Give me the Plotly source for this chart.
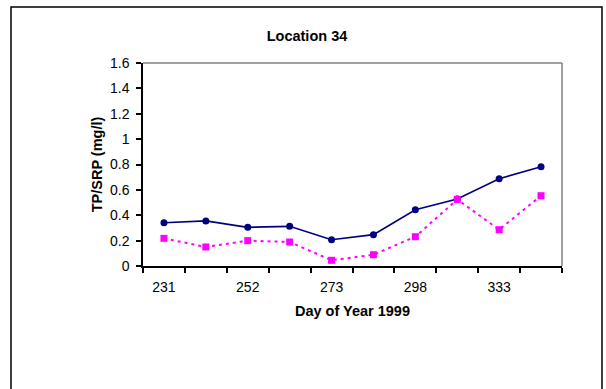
import plotly.graph_objects as go

# Data
tick_labels = ["231", "252", "273", "298", "333"]
tp = [0.341, 0.355, 0.305, 0.313, 0.207, 0.247, 0.444, 0.528, 0.688, 0.782]
srp = [0.218, 0.150, 0.200, 0.189, 0.045, 0.089, 0.231, 0.525, 0.286, 0.554]
y_ticks = [0, 0.2, 0.4, 0.6, 0.8, 1, 1.2, 1.4, 1.6]

x = list(range(len(tp)))
label_pos = x[::2]

W, H = 606, 389
L, R, T, B = 143, 562, 63, 266

fig = go.Figure()
fig.add_trace(go.Scatter(
    x=x, y=tp, mode="lines+markers",
    line=dict(color="#000080", width=1.7),
    marker=dict(symbol="circle", size=7, color="#000080"),
    name="TP", cliponaxis=False))
fig.add_trace(go.Scatter(
    x=x, y=srp, mode="lines+markers",
    line=dict(color="#FF00FF", width=2, dash="3px,4px"),
    marker=dict(symbol="square", size=7, color="#FF00FF"),
    name="SRP", cliponaxis=False))

pw, ph = R - L, B - T
def px(v):
    return (v - L) / pw
def py(v):
    return (B - v) / ph

shapes = [
    dict(type="rect", xref="paper", yref="paper",
         x0=px(11), x1=px(602), y0=py(400), y1=py(7),
         line=dict(color="black", width=1.5), layer="below"),
    dict(type="line", xref="paper", yref="paper", x0=0, x1=1, y0=1, y1=1,
         line=dict(color="#808080", width=1.5), layer="below"),
    dict(type="line", xref="paper", yref="paper", x0=1, x1=1, y0=0, y1=1,
         line=dict(color="#808080", width=1.5), layer="below"),
]

font = "Liberation Sans, Arial, sans-serif"
fig.update_layout(
    width=W, height=H,
    margin=dict(l=L, r=W - R, t=T, b=H - B, pad=0),
    paper_bgcolor="white", plot_bgcolor="white",
    showlegend=False,
    font=dict(family=font, size=14, color="black"),
    title=dict(text="<b>Location 34</b>", x=307 / W, xanchor="center",
               xref="container", yref="container",
               y=1 - 35.5 / H, yanchor="middle", font=dict(size=14.5)),
    shapes=shapes,
    xaxis=dict(
        range=[-0.5, len(tp) - 0.5], showgrid=False, zeroline=False,
        showline=True, linecolor="black", linewidth=1.5,
        tickmode="array", tickvals=label_pos, ticktext=tick_labels,
        ticks="", ticklabelstandoff=7, tickfont=dict(size=14),
        minor=dict(tickmode="array",
                   tickvals=[i - 0.5 for i in range(len(tp) + 1)],
                   ticks="outside", ticklen=5, tickcolor="black", tickwidth=1.5,
                   showgrid=False),
        title=dict(text="<b>Day of Year 1999</b>", font=dict(size=14.5), standoff=12),
    ),
    yaxis=dict(
        range=[0, 1.6], showgrid=False, zeroline=False,
        showline=True, linecolor="black", linewidth=1.5,
        tickmode="array", tickvals=y_ticks,
        ticktext=[("%g" % v) for v in y_ticks],
        ticks="outside", ticklen=5, tickcolor="black", tickwidth=1.5,
        ticklabelstandoff=4, tickfont=dict(size=14),
        title=dict(text="<b>TP/SRP (mg/l)</b>", font=dict(size=14.5), standoff=4),
    ),
)

fig.write_html("out.html")
